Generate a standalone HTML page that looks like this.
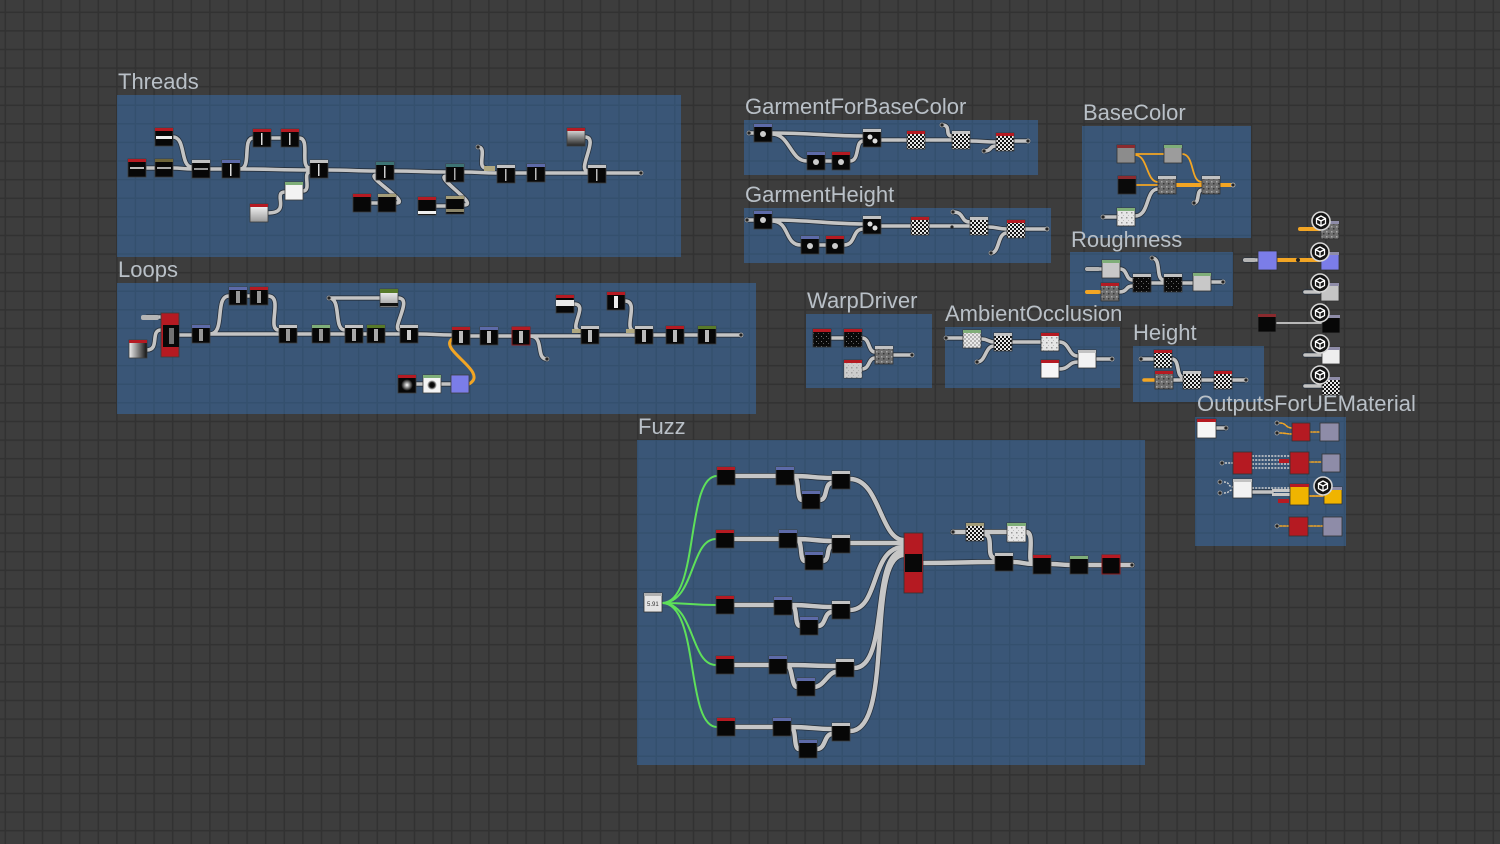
<!DOCTYPE html>
<html><head><meta charset="utf-8"><style>
html,body{margin:0;padding:0;background:#3d3d3d;width:1500px;height:844px;overflow:hidden}
svg{display:block}
.b{fill:#070707;stroke:#3c3c3c;stroke-width:.8}
.lbl{font-family:"Liberation Sans",sans-serif;font-size:22px;fill:#b9c0c7}
</style></head><body>
<svg width="1500" height="844" viewBox="0 0 1500 844" xmlns="http://www.w3.org/2000/svg">
<defs>
<pattern id="gbg" patternUnits="userSpaceOnUse" x="4.5" y="11.5" width="18.6" height="18.6"><rect width="18.6" height="18.6" fill="#3d3d3d"/><rect width="18.6" height="1.6" fill="#323232"/><rect width="1.6" height="18.6" fill="#323232"/></pattern>
<pattern id="gfr" patternUnits="userSpaceOnUse" x="4.5" y="11.5" width="18.6" height="18.6"><rect width="18.6" height="18.6" fill="#3a5677"/><rect width="18.6" height="1.4" fill="#34506e"/><rect width="1.4" height="18.6" fill="#34506e"/></pattern>
<pattern id="chk" patternUnits="userSpaceOnUse" width="4" height="4"><rect width="4" height="4" fill="#151515"/><rect width="2" height="2" fill="#e8e8e8"/><rect x="2" y="2" width="2" height="2" fill="#e8e8e8"/></pattern>
<pattern id="nz" patternUnits="userSpaceOnUse" width="5" height="5"><rect width="5" height="5" fill="#6e6e6e"/><rect x="1" y="1" width="1.5" height="1.5" fill="#a8a8a8"/><rect x="3" y="3" width="1.5" height="1.5" fill="#3a3a3a"/></pattern>
<pattern id="nzw" patternUnits="userSpaceOnUse" width="5" height="5"><rect width="5" height="5" fill="#e6e6e6"/><rect x="1" y="2" width="1.5" height="1.5" fill="#999"/><rect x="3" y="0" width="1" height="1" fill="#bbb"/></pattern>
<pattern id="nzb" patternUnits="userSpaceOnUse" width="5" height="5"><rect width="5" height="5" fill="#0a0a0a"/><rect x="1" y="1" width="1" height="1" fill="#777"/><rect x="3" y="3" width="1" height="1" fill="#555"/></pattern>
<linearGradient id="gV" x1="0" y1="0" x2="0" y2="1"><stop offset="0" stop-color="#f2f2f2"/><stop offset="1" stop-color="#222"/></linearGradient>
<linearGradient id="gW" x1="0" y1="0" x2="0" y2="1"><stop offset="0" stop-color="#ffffff"/><stop offset="1" stop-color="#9a9a9a"/></linearGradient>
<linearGradient id="gH" x1="0" y1="0" x2="1" y2="0"><stop offset="0" stop-color="#f0f0f0"/><stop offset="1" stop-color="#111"/></linearGradient>
<radialGradient id="blur"><stop offset="0" stop-color="#fff"/><stop offset="1" stop-color="#000"/></radialGradient>
<radialGradient id="dot"><stop offset="0" stop-color="#000"/><stop offset=".5" stop-color="#111"/><stop offset="1" stop-color="#fff"/></radialGradient>
<symbol id="ico" viewBox="-10 -10 20 20" overflow="visible"><circle r="9" fill="#141414" stroke="#d6d6d6" stroke-width="1.6"/><path d="M0,-5L4.5,-2.5L4.5,2.5L0,5L-4.5,2.5L-4.5,-2.5ZM-4.5,-2.5L0,0L4.5,-2.5M0,0V5" stroke="#fff" stroke-width="1.3" fill="none" stroke-linejoin="round"/></symbol>
<g id="conns">
<!-- Threads -->
<path d="M146,168H155M173,168C182,168 183,169 192,169M173,137C186,137 180,167 192,167M210,169H222M240,169C270,169 280,170 310,170M240,169C252,169 242,138 253,138M271,138H281M299,138C311,138 299,168 310,168M303,191C312,191 302,172 310,172M268,213C292,213 272,192 285,192M328,170C350,170 355,171 376,171M394,171C420,171 420,172 446,172M396,203C412,203 364,176 376,175M371,203H378M464,205C480,205 434,177 446,176M436,206H446M464,172C480,172 480,173 497,173M478,147C488,147 476,168 486,168M515,173H527M545,173H588M585,137C600,137 576,171 588,171M606,173H641"/>
<!-- Loops -->
<path d="M147,317H161M147,350C160,350 150,330 161,330M179,335H192M210,334H279M210,334C226,334 214,296 229,296M247,296H250M268,296C284,296 266,330 279,330M297,334H312M330,334H345M329,298H380M329,298C342,298 333,330 345,330M363,334H367M385,334H400M398,298C414,298 390,330 400,330M418,334C435,334 435,335 452,335M470,336H480M498,336H512M530,336H581M530,336C545,336 535,359 547,359M574,304C590,304 566,331 581,331M600,335H635M625,301C640,301 622,331 635,331M653,335H666M684,335H698M716,335H741M416,384H423M441,384H451"/>
<!-- GFBC -->
<path d="M749,133H754M772,133C810,133 830,136 863,136M772,134C790,134 790,161 807,161M825,161H832M850,161C860,161 855,141 863,141M881,140H907M925,140H952M942,125C952,125 944,136 952,136M970,141C983,141 983,142 996,142M984,151C992,151 989,146 996,146M1014,141H1028"/>
<!-- GH -->
<path d="M747,220H754M772,220C810,220 830,224 863,224M772,221C790,221 784,245 801,245M819,245H826M844,245C856,245 852,229 863,229M881,226H911M929,226H970M953,212C965,212 960,222 970,222M988,227C998,227 997,229 1007,229M991,253C1000,253 997,233 1007,233M1025,229H1047"/>
<!-- BaseColor grey -->
<path d="M1103,217H1117M1135,216C1150,216 1145,189 1158,189M1194,203C1200,203 1196,190 1202,190"/>
<!-- Roughness -->
<path d="M1087,269H1102M1120,269C1128,269 1125,280 1133,280M1119,292C1128,292 1125,286 1133,286M1151,283H1164M1152,258C1162,258 1155,280 1164,280M1182,283H1193M1211,282H1223"/>
<!-- WarpDriver -->
<path d="M831,338H844M862,338C870,338 868,352 875,352M862,369C870,369 868,358 875,358M894,355H912"/>
<!-- AO -->
<path d="M946,338H963M982,339C988,339 988,342 994,342M977,362C986,362 985,346 994,346M1013,342H1041M1059,342C1070,342 1068,356 1078,356M1059,369C1070,369 1068,362 1078,362M1097,359H1112"/>
<!-- Height -->
<path d="M1141,359H1154M1172,359C1180,359 1176,377 1183,377M1173,380H1183M1201,380H1214M1232,380H1246"/>
<!-- Outputs / outer -->
<path d="M1216,428H1226M1245,260H1258M1305,292H1321M1305,355H1322M1305,386H1322M1253,492H1272"/>
</g>
<g id="fz">
<path d="M735,476H776M794,476C810,476 815,478 832,478M794,477C800,477 796,500 802,500M820,500C828,500 824,483 832,483M850,479C880,479 880,540 904,540"/>
<path d="M734,539H779M797,539C812,539 817,541 832,541M797,540C803,540 799,561 805,561M823,561C830,561 826,546 832,546M850,543H904"/>
<path d="M734,605H774M792,605C810,605 815,607 832,607M792,606C798,606 794,626 800,626M818,626C826,626 824,612 832,612M850,610C880,610 870,547 904,547"/>
<path d="M734,665H769M787,665C808,665 815,666 836,666M787,666C793,666 791,687 797,687M814,687C824,687 828,672 836,672M854,668C890,668 870,551 904,551"/>
<path d="M735,727H773M791,727C810,727 815,729 832,729M791,728C797,728 793,749 799,749M817,749C826,749 824,734 832,734M850,731C895,731 865,555 904,555"/>
<path d="M923,563C960,563 960,562 995,562M953,532H966M984,532H1007M984,534C995,534 985,558 995,558M1026,532C1036,532 1026,563 1033,563M1013,562C1023,562 1023,564 1033,564M1051,564C1060,564 1060,565 1070,565M1088,565H1102M1120,565H1132"/>
</g>
</defs>

<rect width="1500" height="844" fill="url(#gbg)"/>

<!-- Frames -->
<rect x="117" y="95" width="564" height="162" fill="url(#gfr)"/>
<rect x="117" y="283" width="639" height="131" fill="url(#gfr)"/>
<rect x="744" y="120" width="294" height="55" fill="url(#gfr)"/>
<rect x="744" y="208" width="307" height="55" fill="url(#gfr)"/>
<rect x="1082" y="126" width="169" height="112" fill="url(#gfr)"/>
<rect x="1070" y="252" width="163" height="54" fill="url(#gfr)"/>
<rect x="806" y="314" width="126" height="74" fill="url(#gfr)"/>
<rect x="945" y="327" width="175" height="61" fill="url(#gfr)"/>
<rect x="1133" y="346" width="131" height="56" fill="url(#gfr)"/>
<rect x="1195" y="417" width="151" height="129" fill="url(#gfr)"/>
<rect x="637" y="440" width="508" height="325" fill="url(#gfr)"/>

<!-- Labels -->
<text class="lbl" x="118" y="89">Threads</text>
<text class="lbl" x="118" y="277">Loops</text>
<text class="lbl" x="745" y="114">GarmentForBaseColor</text>
<text class="lbl" x="745" y="202">GarmentHeight</text>
<text class="lbl" x="1083" y="120">BaseColor</text>
<text class="lbl" x="1071" y="247">Roughness</text>
<text class="lbl" x="807" y="308">WarpDriver</text>
<text class="lbl" x="945" y="321">AmbientOcclusion</text>
<text class="lbl" x="1133" y="340">Height</text>
<text class="lbl" x="1197" y="411">OutputsForUEMaterial</text>
<text class="lbl" x="638" y="434">Fuzz</text>

<!-- Connections -->
<use href="#conns" fill="none" stroke="#26303c" stroke-width="5.2" stroke-linecap="round"/>
<use href="#conns" fill="none" stroke="#c4c4c4" stroke-width="3.6" stroke-linecap="round"/>
<use href="#fz" fill="none" stroke="#26303c" stroke-width="6" stroke-linecap="round"/>
<use href="#fz" fill="none" stroke="#c6c6c6" stroke-width="4.4" stroke-linecap="round"/>

<!-- green lines Fuzz -->
<g fill="none" stroke="#5ee05a" stroke-width="2">
<path d="M662,603C700,603 685,476 717,476M662,603C695,603 690,539 716,539M662,603C690,603 690,605 716,605M662,603C695,603 690,665 716,665M662,603C700,603 685,727 717,727"/>
</g>
<!-- orange lines -->
<g fill="none" stroke="#f2a524" stroke-linecap="round">
<path d="M469,384C490,372 438,350 452,339" stroke-width="3"/>
<path d="M1135,154H1164M1135,155C1148,155 1146,182 1158,182M1182,154C1195,154 1190,182 1202,182M1136,185H1158" stroke-width="1.8"/>
<path d="M1176,185H1202M1220,185H1233" stroke-width="4"/>
<path d="M1087,292H1101M1144,380H1155" stroke-width="3.5"/>
<path d="M1300,229H1321M1277,260H1321" stroke-width="4"/>
<path d="M1280,423C1286,423 1286,428 1292,428M1280,433C1286,433 1286,434 1292,434M1310,432H1320M1308,462H1322M1309,496H1324M1280,526H1289M1307,526H1323" stroke-width="1.6" stroke-dasharray="2 1.5"/>
<path d="M1308,496H1324" stroke-width="1.6"/>
</g>
<g fill="none" stroke="#cfcfcf" stroke-width="1.4" stroke-dasharray="2 1.2">
<path d="M1252,456H1290M1252,460H1279M1252,464H1290M1252,468H1290M1225,463H1233M1224,482C1230,482 1228,487 1233,487M1224,493C1230,493 1228,490 1233,490M1252,488H1290"/>
</g>
<path d="M1276,323H1322" stroke="#b8b8b8" stroke-width="2" fill="none"/>

<!-- ========== Threads nodes ========== -->
<g>
<rect class="b" x="128" y="159" width="18" height="18"/><rect x="128" y="159" width="18" height="3" fill="#b51a22"/><rect x="130" y="167" width="14" height="2" fill="#bbb"/>
<rect class="b" x="155" y="159" width="18" height="18"/><rect x="155" y="159" width="18" height="3" fill="#6d6438"/><rect x="157" y="167" width="14" height="2" fill="#aaa"/>
<rect class="b" x="155" y="128" width="18" height="18"/><rect x="155" y="128" width="18" height="3" fill="#b51a22"/><rect x="156" y="136" width="16" height="3" fill="#eee"/>
<rect class="b" x="192" y="160" width="18" height="18"/><rect x="192" y="160" width="18" height="3" fill="#c2c2c2"/><rect x="194" y="168" width="14" height="2" fill="#999"/>
<rect class="b" x="222" y="160" width="18" height="18"/><rect x="222" y="160" width="18" height="3" fill="#5d6aa8"/><rect x="230" y="164" width="1.5" height="12" fill="#ddd"/>
<rect class="b" x="253" y="129" width="18" height="18"/><rect x="253" y="129" width="18" height="3" fill="#b51a22"/><rect x="261" y="133" width="1.5" height="12" fill="#ddd"/>
<rect class="b" x="281" y="129" width="18" height="18"/><rect x="281" y="129" width="18" height="3" fill="#b51a22"/><rect x="289" y="133" width="1.5" height="12" fill="#ccc"/>
<rect class="b" x="310" y="160" width="18" height="18"/><rect x="310" y="160" width="18" height="3" fill="#c2c2c2"/><rect x="318" y="164" width="1.5" height="12" fill="#ddd"/>
<rect x="285" y="182" width="18" height="18" fill="#f3f3f3" stroke="#3c3c3c" stroke-width=".8"/><rect x="285" y="182" width="18" height="3" fill="#7fae78"/>
<rect x="250" y="204" width="18" height="18" fill="url(#gW)" stroke="#3c3c3c" stroke-width=".8"/><rect x="250" y="204" width="18" height="3" fill="#b51a22"/>
<rect class="b" x="376" y="162" width="18" height="18"/><rect x="376" y="162" width="18" height="3" fill="#3d7474"/><rect x="384" y="166" width="1.5" height="12" fill="#ccc"/>
<rect class="b" x="353" y="194" width="18" height="18"/><rect x="353" y="194" width="18" height="3" fill="#b51a22"/>
<rect class="b" x="378" y="194" width="18" height="18"/><rect x="378" y="194" width="18" height="3" fill="#a39c78"/>
<rect class="b" x="446" y="164" width="18" height="18"/><rect x="446" y="164" width="18" height="3" fill="#3d7474"/><rect x="454" y="168" width="1.5" height="12" fill="#aaa"/>
<rect class="b" x="418" y="197" width="18" height="18"/><rect x="418" y="197" width="18" height="3" fill="#b51a22"/><rect x="418" y="211" width="18" height="3" fill="#eee"/>
<rect class="b" x="446" y="196" width="18" height="18"/><rect x="446" y="196" width="18" height="3" fill="#a39c78"/><rect x="446" y="209" width="18" height="3" fill="#8a8468"/>
<rect x="484" y="166" width="11" height="5" fill="#b0a880"/>
<circle cx="478" cy="147" r="2" fill="#222" stroke="#aaa" stroke-width=".8"/>
<rect class="b" x="497" y="165" width="18" height="18"/><rect x="497" y="165" width="18" height="3" fill="#c2c2c2"/><rect x="505" y="169" width="1.5" height="12" fill="#bbb"/>
<rect class="b" x="527" y="164" width="18" height="18"/><rect x="527" y="164" width="18" height="3" fill="#5d6aa8"/><rect x="535" y="168" width="1.5" height="12" fill="#bbb"/>
<rect x="567" y="128" width="18" height="18" fill="url(#gV)" stroke="#3c3c3c" stroke-width=".8"/><rect x="567" y="128" width="18" height="3" fill="#b51a22"/>
<rect class="b" x="588" y="165" width="18" height="18"/><rect x="588" y="165" width="18" height="3" fill="#c2c2c2"/><rect x="596" y="169" width="1.5" height="12" fill="#bbb"/>
<circle cx="641" cy="173" r="2" fill="#222" stroke="#bbb" stroke-width=".8"/>
</g>

<!-- ========== Loops nodes ========== -->
<g>
<rect x="141" y="315" width="18" height="5" rx="2" fill="#b5b5b5"/>
<rect x="161" y="313" width="18" height="44" fill="#b51a22" stroke="#3c3c3c" stroke-width=".8"/><rect x="163" y="325" width="16" height="22" fill="#080808"/><rect x="169" y="328" width="5" height="16" fill="#ddd" opacity=".5"/>
<rect x="129" y="340" width="18" height="18" fill="url(#gH)" stroke="#3c3c3c" stroke-width=".8"/><rect x="129" y="340" width="18" height="3" fill="#b51a22"/>
<rect class="b" x="192" y="325" width="18" height="18"/><rect x="192" y="325" width="18" height="3" fill="#5d6aa8"/><rect x="199" y="329" width="4" height="12" fill="#999"/>
<rect class="b" x="229" y="287" width="18" height="18"/><rect x="229" y="287" width="18" height="3" fill="#5d6aa8"/><rect x="236" y="291" width="4" height="12" fill="#999"/>
<rect class="b" x="250" y="287" width="18" height="18"/><rect x="250" y="287" width="18" height="3" fill="#b51a22"/><rect x="257" y="291" width="4" height="12" fill="#999"/>
<rect class="b" x="279" y="325" width="18" height="18"/><rect x="279" y="325" width="18" height="3" fill="#c2c2c2"/><rect x="286" y="329" width="4" height="12" fill="#999"/>
<rect class="b" x="312" y="325" width="18" height="18"/><rect x="312" y="325" width="18" height="3" fill="#7fae78"/><rect x="319" y="329" width="4" height="12" fill="#999"/>
<rect class="b" x="345" y="325" width="18" height="18"/><rect x="345" y="325" width="18" height="3" fill="#c2c2c2"/><rect x="352" y="329" width="4" height="12" fill="#aaa"/>
<rect class="b" x="367" y="325" width="18" height="18"/><rect x="367" y="325" width="18" height="3" fill="#587a2a"/><rect x="374" y="329" width="4" height="12" fill="#aaa"/>
<rect x="380" y="289" width="18" height="18" fill="url(#gW)" stroke="#3c3c3c" stroke-width=".8"/><rect x="380" y="289" width="18" height="4" fill="#587a2a"/><rect x="380" y="303" width="18" height="3" fill="#111"/>
<circle cx="329" cy="298" r="2" fill="#222" stroke="#aaa" stroke-width=".8"/>
<rect class="b" x="400" y="325" width="18" height="18"/><rect x="400" y="325" width="18" height="3" fill="#c2c2c2"/><rect x="407" y="330" width="4" height="10" fill="#ccc"/>
<rect class="b" x="452" y="327" width="18" height="18"/><rect x="452" y="327" width="18" height="3" fill="#b51a22"/><rect x="459" y="331" width="4" height="12" fill="#bbb"/>
<rect class="b" x="480" y="327" width="18" height="18"/><rect x="480" y="327" width="18" height="3" fill="#5d6aa8"/><rect x="487" y="331" width="4" height="12" fill="#bbb"/>
<rect x="512" y="327" width="18" height="18" fill="#070707" stroke="#8a1a1a" stroke-width="1"/><rect x="512" y="327" width="18" height="3" fill="#b51a22"/><rect x="519" y="331" width="4" height="12" fill="#bbb"/>
<circle cx="547" cy="359" r="2" fill="#222" stroke="#aaa" stroke-width=".8"/>
<rect class="b" x="556" y="295" width="18" height="18"/><rect x="556" y="295" width="18" height="3" fill="#b51a22"/><rect x="556" y="300" width="18" height="6" fill="#e8e8e8"/>
<rect x="572" y="329" width="9" height="4" fill="#b0a880"/>
<rect class="b" x="581" y="326" width="18" height="18"/><rect x="581" y="326" width="18" height="3" fill="#c2c2c2"/><rect x="588" y="330" width="4" height="12" fill="#bbb"/>
<rect class="b" x="607" y="292" width="18" height="18"/><rect x="607" y="292" width="18" height="3" fill="#b51a22"/><rect x="614" y="296" width="4" height="12" fill="#eee"/>
<rect x="626" y="329" width="9" height="4" fill="#b0a880"/>
<rect class="b" x="635" y="326" width="18" height="18"/><rect x="635" y="326" width="18" height="3" fill="#c2c2c2"/><rect x="642" y="330" width="4" height="12" fill="#bbb"/>
<rect class="b" x="666" y="326" width="18" height="18"/><rect x="666" y="326" width="18" height="3" fill="#b51a22"/><rect x="673" y="330" width="4" height="12" fill="#bbb"/>
<rect class="b" x="698" y="326" width="18" height="18"/><rect x="698" y="326" width="18" height="3" fill="#587a2a"/><rect x="705" y="330" width="4" height="12" fill="#bbb"/>
<circle cx="741" cy="335" r="2" fill="#222" stroke="#bbb" stroke-width=".8"/>
<rect x="398" y="375" width="18" height="18" fill="#070707" stroke="#3c3c3c" stroke-width=".8"/><circle cx="407" cy="385" r="6" fill="url(#blur)"/><rect x="398" y="375" width="18" height="3" fill="#b51a22"/>
<rect x="423" y="375" width="18" height="18" fill="#f4f4f4" stroke="#3c3c3c" stroke-width=".8"/><circle cx="432" cy="385" r="5" fill="url(#dot)"/><rect x="423" y="375" width="18" height="3" fill="#7fae78"/>
<rect x="451" y="375" width="18" height="18" fill="#7b7de8" stroke="#3c3c3c" stroke-width=".8"/>
</g>

<!-- ========== GarmentForBaseColor ========== -->
<g>
<circle cx="749" cy="133" r="2" fill="#222" stroke="#aaa" stroke-width=".8"/>
<rect class="b" x="754" y="124" width="18" height="18"/><rect x="754" y="124" width="18" height="3" fill="#5d6aa8"/><circle cx="763" cy="134" r="3" fill="#ccc"/>
<rect class="b" x="807" y="152" width="18" height="18"/><rect x="807" y="152" width="18" height="3" fill="#5d6aa8"/><circle cx="816" cy="162" r="3" fill="#ccc"/>
<rect class="b" x="832" y="152" width="18" height="18"/><rect x="832" y="152" width="18" height="3" fill="#b51a22"/><circle cx="841" cy="162" r="3" fill="#ccc"/>
<rect class="b" x="863" y="129" width="18" height="18"/><rect x="863" y="129" width="18" height="3" fill="#c2c2c2"/><circle cx="870" cy="137" r="2.5" fill="#ddd"/><circle cx="875" cy="141" r="2.5" fill="#ddd"/>
<rect x="907" y="131" width="18" height="18" fill="url(#chk)" stroke="#3c3c3c" stroke-width=".8"/><rect x="907" y="131" width="18" height="3" fill="#b51a22"/>
<rect x="952" y="131" width="18" height="18" fill="url(#chk)" stroke="#3c3c3c" stroke-width=".8"/><rect x="952" y="131" width="18" height="3" fill="#c2c2c2"/>
<rect x="996" y="133" width="18" height="18" fill="url(#chk)" stroke="#3c3c3c" stroke-width=".8"/><rect x="996" y="133" width="18" height="3" fill="#b51a22"/>
<circle cx="942" cy="125" r="2" fill="#222" stroke="#aaa" stroke-width=".8"/>
<circle cx="984" cy="151" r="2" fill="#222" stroke="#aaa" stroke-width=".8"/>
<circle cx="1028" cy="141" r="2" fill="#222" stroke="#bbb" stroke-width=".8"/>
</g>

<!-- ========== GarmentHeight ========== -->
<g>
<circle cx="747" cy="220" r="2" fill="#222" stroke="#aaa" stroke-width=".8"/>
<rect class="b" x="754" y="211" width="18" height="18"/><rect x="754" y="211" width="18" height="3" fill="#5d6aa8"/><circle cx="763" cy="220" r="3" fill="#ccc"/>
<rect class="b" x="801" y="236" width="18" height="18"/><rect x="801" y="236" width="18" height="3" fill="#5d6aa8"/><circle cx="810" cy="246" r="3" fill="#ccc"/>
<rect class="b" x="826" y="236" width="18" height="18"/><rect x="826" y="236" width="18" height="3" fill="#b51a22"/><circle cx="835" cy="246" r="3" fill="#ccc"/>
<rect class="b" x="863" y="216" width="18" height="18"/><rect x="863" y="216" width="18" height="3" fill="#c2c2c2"/><circle cx="870" cy="224" r="2.5" fill="#ddd"/><circle cx="875" cy="228" r="2.5" fill="#ddd"/>
<rect x="911" y="217" width="18" height="18" fill="url(#chk)" stroke="#3c3c3c" stroke-width=".8"/><rect x="911" y="217" width="18" height="3" fill="#b51a22"/>
<rect x="970" y="217" width="18" height="18" fill="url(#chk)" stroke="#3c3c3c" stroke-width=".8"/><rect x="970" y="217" width="18" height="3" fill="#c2c2c2"/>
<rect x="1007" y="220" width="18" height="18" fill="url(#chk)" stroke="#3c3c3c" stroke-width=".8"/><rect x="1007" y="220" width="18" height="3" fill="#b51a22"/>
<circle cx="953" cy="212" r="2" fill="#222" stroke="#aaa" stroke-width=".8"/>
<circle cx="952" cy="227" r="1.6" fill="#222"/>
<circle cx="991" cy="253" r="2" fill="#222" stroke="#aaa" stroke-width=".8"/>
<circle cx="1047" cy="229" r="2" fill="#222" stroke="#bbb" stroke-width=".8"/>
</g>

<!-- ========== BaseColor ========== -->
<g>
<rect x="1117" y="145" width="18" height="18" fill="#8c8c8c" stroke="#333" stroke-width=".8"/><rect x="1117" y="145" width="18" height="3" fill="#8a2a2e"/>
<rect x="1164" y="145" width="18" height="18" fill="#9c9c9c" stroke="#333" stroke-width=".8"/><rect x="1164" y="145" width="18" height="3" fill="#7fae78"/>
<rect x="1118" y="176" width="18" height="18" fill="#0a0a0a" stroke="#333" stroke-width=".8"/><rect x="1118" y="176" width="18" height="3" fill="#8a2a2e"/>
<rect x="1158" y="176" width="18" height="18" fill="url(#nz)" stroke="#333" stroke-width=".8"/><rect x="1158" y="176" width="18" height="3" fill="#c2c2c2"/>
<rect x="1202" y="176" width="18" height="18" fill="url(#nz)" stroke="#333" stroke-width=".8"/><rect x="1202" y="176" width="18" height="3" fill="#c2c2c2"/>
<rect x="1117" y="208" width="18" height="18" fill="url(#nzw)" stroke="#333" stroke-width=".8"/><rect x="1117" y="208" width="18" height="3" fill="#7fae78"/>
<circle cx="1103" cy="217" r="2" fill="#222" stroke="#aaa" stroke-width=".8"/>
<circle cx="1194" cy="203" r="2" fill="#222" stroke="#aaa" stroke-width=".8"/>
<circle cx="1233" cy="185" r="2" fill="#222" stroke="#bbb" stroke-width=".8"/>
</g>

<!-- ========== Roughness ========== -->
<g>
<rect x="1085" y="267" width="15" height="4" rx="2" fill="#b5b5b5"/>
<rect x="1085" y="290" width="15" height="4" rx="2" fill="#f2a524"/>
<rect x="1102" y="260" width="18" height="18" fill="#c8c8c8" stroke="#333" stroke-width=".8"/><rect x="1102" y="260" width="18" height="3" fill="#7fae78"/>
<rect x="1101" y="283" width="18" height="18" fill="url(#nz)" stroke="#333" stroke-width=".8"/><rect x="1101" y="283" width="18" height="3" fill="#b51a22"/>
<rect x="1133" y="274" width="18" height="18" fill="url(#nzb)" stroke="#333" stroke-width=".8"/><rect x="1133" y="274" width="18" height="3" fill="#c2c2c2"/>
<rect x="1164" y="274" width="18" height="18" fill="url(#nzb)" stroke="#333" stroke-width=".8"/><rect x="1164" y="274" width="18" height="3" fill="#c2c2c2"/>
<rect x="1193" y="273" width="18" height="18" fill="#c8c8c8" stroke="#333" stroke-width=".8"/><rect x="1193" y="273" width="18" height="3" fill="#7fae78"/>
<circle cx="1152" cy="258" r="2" fill="#222" stroke="#aaa" stroke-width=".8"/>
<circle cx="1223" cy="282" r="2" fill="#222" stroke="#bbb" stroke-width=".8"/>
</g>

<!-- ========== Outer output column ========== -->
<g>
<rect x="1321" y="221" width="18" height="18" fill="url(#nz)" stroke="#333" stroke-width=".8"/><rect x="1321" y="221" width="18" height="3" fill="#8e8ca8"/>
<rect x="1258" y="251" width="19" height="19" fill="#7b7de8" stroke="#333" stroke-width=".8"/>
<rect x="1243" y="258" width="13" height="4" rx="2" fill="#b5b5b5"/>
<rect x="1321" y="252" width="18" height="18" fill="#7b7de8" stroke="#333" stroke-width=".8"/><rect x="1321" y="252" width="18" height="3" fill="#8e8ca8"/>
<circle cx="1298" cy="260" r="2" fill="#222"/>
<rect x="1321" y="283" width="18" height="18" fill="#c4c4c4" stroke="#333" stroke-width=".8"/><rect x="1321" y="283" width="18" height="3" fill="#8e8ca8"/>
<rect class="b" x="1258" y="314" width="18" height="18"/><rect x="1258" y="314" width="18" height="3" fill="#8a2a2e"/>
<rect class="b" x="1322" y="315" width="18" height="18"/><rect x="1322" y="315" width="18" height="3" fill="#8e8ca8"/>
<rect x="1322" y="347" width="18" height="17" fill="#eeeeee" stroke="#333" stroke-width=".8"/><rect x="1322" y="347" width="18" height="3" fill="#8e8ca8"/>
<rect x="1322" y="377" width="18" height="18" fill="url(#chk)" stroke="#333" stroke-width=".8"/><rect x="1322" y="377" width="18" height="3" fill="#8e8ca8"/>
<use href="#ico" x="1311" y="211" width="20" height="20"/>
<use href="#ico" x="1310" y="242" width="20" height="20"/>
<use href="#ico" x="1310" y="273" width="20" height="20"/>
<use href="#ico" x="1310" y="303" width="20" height="20"/>
<use href="#ico" x="1310" y="334" width="20" height="20"/>
<use href="#ico" x="1310" y="365" width="20" height="20"/>
</g>

<!-- ========== WarpDriver ========== -->
<g>
<rect x="813" y="329" width="18" height="18" fill="url(#nzb)" stroke="#333" stroke-width=".8"/><rect x="813" y="329" width="18" height="3" fill="#b51a22"/>
<rect x="844" y="329" width="18" height="18" fill="url(#nzb)" stroke="#333" stroke-width=".8"/><rect x="844" y="329" width="18" height="3" fill="#b51a22"/>
<rect x="875" y="346" width="18" height="18" fill="url(#nz)" stroke="#333" stroke-width=".8"/><rect x="875" y="346" width="18" height="3" fill="#c2c2c2"/>
<rect x="844" y="360" width="18" height="18" fill="#a8a8a8" stroke="#333" stroke-width=".8"/><rect x="844" y="360" width="18" height="18" fill="url(#nzw)" opacity=".6"/><rect x="844" y="360" width="18" height="3" fill="#b51a22"/>
<circle cx="912" cy="355" r="2" fill="#222" stroke="#bbb" stroke-width=".8"/>
</g>

<!-- ========== AmbientOcclusion ========== -->
<g>
<circle cx="946" cy="338" r="2" fill="#222" stroke="#aaa" stroke-width=".8"/>
<rect x="963" y="330" width="18" height="18" fill="#e8e8e8" stroke="#333" stroke-width=".8"/><rect x="963" y="330" width="18" height="18" fill="url(#chk)" opacity=".25"/><rect x="963" y="330" width="18" height="3" fill="#7fae78"/>
<rect x="994" y="333" width="18" height="18" fill="url(#chk)" stroke="#333" stroke-width=".8"/><rect x="994" y="333" width="18" height="3" fill="#c2c2c2"/>
<circle cx="977" cy="362" r="2" fill="#222" stroke="#aaa" stroke-width=".8"/>
<rect x="1041" y="333" width="18" height="18" fill="url(#nzw)" stroke="#333" stroke-width=".8"/><rect x="1041" y="333" width="18" height="3" fill="#b51a22"/>
<rect x="1041" y="360" width="18" height="18" fill="#f6f6f6" stroke="#333" stroke-width=".8"/><rect x="1041" y="360" width="18" height="3" fill="#b51a22"/>
<rect x="1078" y="350" width="18" height="18" fill="#f2f2f2" stroke="#333" stroke-width=".8"/><rect x="1078" y="350" width="18" height="3" fill="#c2c2c2"/>
<circle cx="1112" cy="359" r="2" fill="#222" stroke="#bbb" stroke-width=".8"/>
</g>

<!-- ========== Height ========== -->
<g>
<circle cx="1141" cy="359" r="2" fill="#222" stroke="#aaa" stroke-width=".8"/>
<rect x="1154" y="350" width="18" height="18" fill="url(#chk)" stroke="#333" stroke-width=".8"/><rect x="1154" y="350" width="18" height="3" fill="#b51a22"/>
<rect x="1155" y="371" width="18" height="18" fill="url(#nz)" stroke="#333" stroke-width=".8"/><rect x="1155" y="371" width="18" height="3" fill="#b51a22"/>
<rect x="1183" y="371" width="18" height="18" fill="url(#chk)" stroke="#333" stroke-width=".8"/><rect x="1183" y="371" width="18" height="3" fill="#c2c2c2"/>
<rect x="1214" y="371" width="18" height="18" fill="url(#chk)" stroke="#333" stroke-width=".8"/><rect x="1214" y="371" width="18" height="3" fill="#b51a22"/>
<circle cx="1246" cy="380" r="2" fill="#222" stroke="#bbb" stroke-width=".8"/>
</g>

<!-- ========== OutputsForUEMaterial ========== -->
<g>
<rect x="1197" y="419" width="19" height="19" fill="#f6f6f6" stroke="#333" stroke-width=".8"/><rect x="1197" y="419" width="19" height="3" fill="#b51a22"/>
<circle cx="1226" cy="428" r="2" fill="#222" stroke="#aaa" stroke-width=".8"/>
<circle cx="1277" cy="423" r="2" fill="#222" stroke="#aaa" stroke-width=".8"/>
<circle cx="1277" cy="433" r="2" fill="#222" stroke="#aaa" stroke-width=".8"/>
<rect x="1292" y="423" width="18" height="18" fill="#b51a22" stroke="#333" stroke-width=".8"/>
<rect x="1320" y="423" width="19" height="18" fill="#8e8ca8" stroke="#333" stroke-width=".8"/>
<circle cx="1222" cy="463" r="2" fill="#222" stroke="#aaa" stroke-width=".8"/>
<rect x="1233" y="452" width="19" height="22" fill="#b51a22" stroke="#333" stroke-width=".8"/>
<rect x="1279" y="459" width="10" height="4" fill="#b51a22"/>
<rect x="1290" y="452" width="19" height="22" fill="#b51a22" stroke="#333" stroke-width=".8"/>
<rect x="1322" y="454" width="18" height="18" fill="#8e8ca8" stroke="#333" stroke-width=".8"/>
<circle cx="1220" cy="482" r="2" fill="#222" stroke="#aaa" stroke-width=".8"/>
<circle cx="1220" cy="493" r="2" fill="#222" stroke="#aaa" stroke-width=".8"/>
<rect x="1233" y="479" width="19" height="19" fill="#f2f2f2" stroke="#333" stroke-width=".8"/><rect x="1233" y="479" width="19" height="3" fill="#c2c2c2"/>
<rect x="1272" y="489" width="18" height="3" fill="#c8c8c8"/><rect x="1272" y="493" width="18" height="3" fill="#c8c8c8"/>
<rect x="1278" y="499" width="11" height="4" fill="#b51a22"/>
<rect x="1290" y="484" width="19" height="21" fill="#f0b400" stroke="#333" stroke-width=".8"/><rect x="1290" y="484" width="19" height="3" fill="#b51a22"/>
<rect x="1324" y="487" width="18" height="17" fill="#f0b400" stroke="#333" stroke-width=".8"/><rect x="1324" y="487" width="18" height="3" fill="#8e8ca8"/>
<use href="#ico" x="1313" y="476" width="20" height="20"/>
<circle cx="1277" cy="526" r="2" fill="#222" stroke="#aaa" stroke-width=".8"/>
<rect x="1289" y="517" width="19" height="19" fill="#b51a22" stroke="#333" stroke-width=".8"/>
<rect x="1323" y="517" width="19" height="19" fill="#8e8ca8" stroke="#333" stroke-width=".8"/>
</g>

<!-- ========== Fuzz ========== -->
<g>
<rect x="644" y="593" width="18" height="19" fill="#e4e4e4" stroke="#333" stroke-width=".8"/><rect x="644" y="593" width="18" height="3" fill="#b0b0b0"/>
<text x="647" y="606" font-family="Liberation Sans,sans-serif" font-size="6" fill="#333">5.91</text>
<!-- row1 -->
<rect class="b" x="717" y="467" width="18" height="18"/><rect x="717" y="467" width="18" height="3" fill="#b51a22"/>
<rect class="b" x="776" y="467" width="18" height="18"/><rect x="776" y="467" width="18" height="3" fill="#5d6aa8"/>
<rect class="b" x="802" y="491" width="18" height="18"/><rect x="802" y="491" width="18" height="3" fill="#5d6aa8"/>
<rect class="b" x="832" y="471" width="18" height="18"/><rect x="832" y="471" width="18" height="3" fill="#c2c2c2"/>
<!-- row2 -->
<rect class="b" x="716" y="530" width="18" height="18"/><rect x="716" y="530" width="18" height="3" fill="#b51a22"/>
<rect class="b" x="779" y="530" width="18" height="18"/><rect x="779" y="530" width="18" height="3" fill="#5d6aa8"/>
<rect class="b" x="805" y="552" width="18" height="18"/><rect x="805" y="552" width="18" height="3" fill="#5d6aa8"/>
<rect class="b" x="832" y="535" width="18" height="18"/><rect x="832" y="535" width="18" height="3" fill="#c2c2c2"/>
<!-- row3 -->
<rect class="b" x="716" y="596" width="18" height="18"/><rect x="716" y="596" width="18" height="3" fill="#b51a22"/>
<rect class="b" x="774" y="597" width="18" height="18"/><rect x="774" y="597" width="18" height="3" fill="#5d6aa8"/>
<rect class="b" x="800" y="617" width="18" height="18"/><rect x="800" y="617" width="18" height="3" fill="#5d6aa8"/>
<rect class="b" x="832" y="601" width="18" height="18"/><rect x="832" y="601" width="18" height="3" fill="#c2c2c2"/>
<!-- row4 -->
<rect class="b" x="716" y="656" width="18" height="18"/><rect x="716" y="656" width="18" height="3" fill="#b51a22"/>
<rect class="b" x="769" y="656" width="18" height="18"/><rect x="769" y="656" width="18" height="3" fill="#5d6aa8"/>
<rect class="b" x="797" y="678" width="18" height="18"/><rect x="797" y="678" width="18" height="3" fill="#5d6aa8"/>
<rect class="b" x="836" y="659" width="18" height="18"/><rect x="836" y="659" width="18" height="3" fill="#c2c2c2"/>
<!-- row5 -->
<rect class="b" x="717" y="718" width="18" height="18"/><rect x="717" y="718" width="18" height="3" fill="#b51a22"/>
<rect class="b" x="773" y="718" width="18" height="18"/><rect x="773" y="718" width="18" height="3" fill="#5d6aa8"/>
<rect class="b" x="799" y="740" width="18" height="18"/><rect x="799" y="740" width="18" height="3" fill="#5d6aa8"/>
<rect class="b" x="832" y="723" width="18" height="18"/><rect x="832" y="723" width="18" height="3" fill="#c2c2c2"/>
<!-- big red -->
<rect x="904" y="533" width="19" height="60" fill="#b51a22" stroke="#333" stroke-width=".8"/><rect x="905" y="554" width="17" height="18" fill="#080808"/>
<!-- right group -->
<circle cx="953" cy="532" r="2" fill="#222" stroke="#aaa" stroke-width=".8"/>
<rect x="966" y="523" width="18" height="18" fill="url(#chk)" stroke="#333" stroke-width=".8"/><rect x="966" y="523" width="18" height="3" fill="#a39c78"/>
<rect x="1007" y="523" width="19" height="19" fill="url(#nzw)" stroke="#333" stroke-width=".8"/><rect x="1007" y="523" width="19" height="3" fill="#7fae78"/>
<rect class="b" x="995" y="553" width="18" height="18"/><rect x="995" y="553" width="18" height="3" fill="#c2c2c2"/>
<rect class="b" x="1033" y="555" width="18" height="19"/><rect x="1033" y="555" width="18" height="3" fill="#b51a22"/>
<rect class="b" x="1070" y="556" width="18" height="18"/><rect x="1070" y="556" width="18" height="3" fill="#7fae78"/>
<rect x="1102" y="555" width="18" height="19" fill="#070707" stroke="#8a1a1a" stroke-width="1"/><rect x="1102" y="555" width="18" height="3" fill="#b51a22"/>
<circle cx="1132" cy="565" r="2" fill="#222" stroke="#bbb" stroke-width=".8"/>
</g>
</svg>
</body></html>
